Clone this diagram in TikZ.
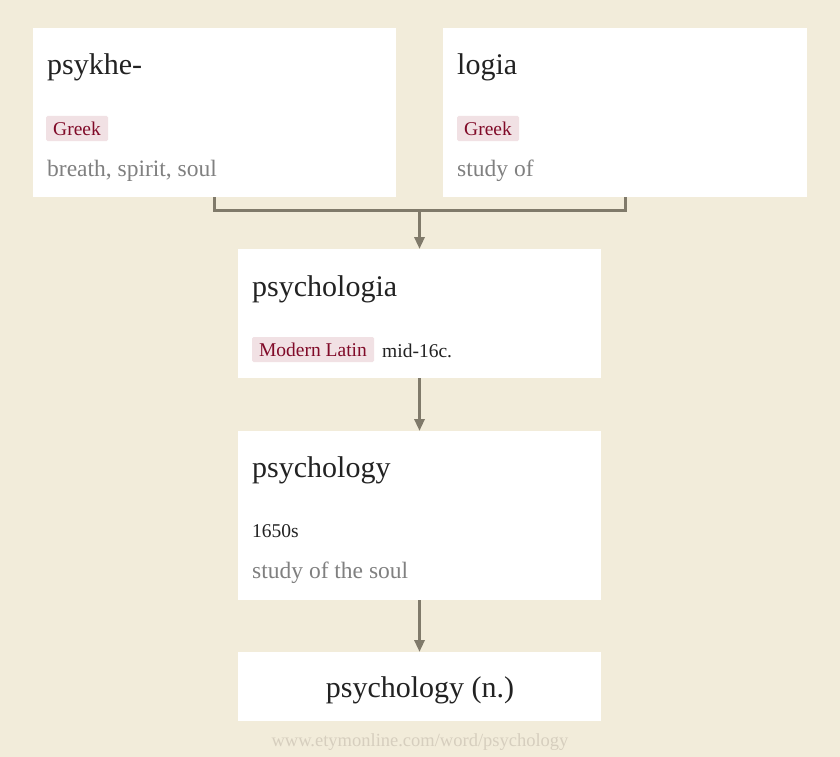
\documentclass[tikz,border=0pt]{standalone}
\usepackage{fontspec}
\setmainfont{Liberation Serif}
\usetikzlibrary{arrows.meta}
\definecolor{pagebg}{RGB}{242,236,218}
\definecolor{inkdark}{RGB}{34,34,34}
\definecolor{inkgray}{RGB}{128,128,128}
\definecolor{tagbg}{RGB}{241,225,228}
\definecolor{tagred}{RGB}{128,10,40}
\definecolor{linkgray}{RGB}{128,122,106}
\definecolor{urlgray}{RGB}{214,206,190}
\tikzset{
  box/.style={fill=white, draw=none, inner sep=0pt, outer sep=0pt, anchor=north west},
  title/.style={anchor=base west, inner sep=0pt, text=inkdark, font=\fontsize{30}{32}\selectfont},
  tag/.style={fill=tagbg, rounded corners=1.5pt, inner sep=0pt, minimum height=25pt, text=tagred, font=\fontsize{19.5}{21}\selectfont},
  note/.style={anchor=base west, inner sep=0pt, text=inkdark, font=\fontsize{19.5}{21}\selectfont},
  gloss/.style={anchor=base west, inner sep=0pt, text=inkgray, font=\fontsize{23.5}{25}\selectfont},
  link/.style={draw=linkgray, line width=3pt},
  arr/.style={link, -{Triangle[length=12pt, width=10pt]}}
}
\begin{document}
\begin{tikzpicture}[x=1pt, y=-1pt]
\fill[pagebg] (0,0) rectangle (840,757);
\useasboundingbox (0,0) rectangle (840,757);
% word boxes
\node[box, minimum width=363pt, minimum height=169pt] (psykhe) at (33,28) {};
\node[box, minimum width=364pt, minimum height=169pt] (logia) at (443,28) {};
\node[box, minimum width=363pt, minimum height=129pt] (psychologia) at (238,249) {};
\node[box, minimum width=363pt, minimum height=169pt] (psychology) at (238,431) {};
\node[box, minimum width=363pt, minimum height=69pt] (final) at (238,652) {};
% psykhe-
\node[title] (psykhe-t) at (47,75) {psykhe-};
\node[tag, minimum width=62pt] (psykhe-l) at (77,128.5) {Greek};
\node[gloss] (psykhe-g) at (47,176) {breath, spirit, soul};
% logia
\node[title] (logia-t) at (457,75) {logia};
\node[tag, minimum width=62pt] (logia-l) at (488,128.5) {Greek};
\node[gloss] (logia-g) at (457,176) {study of};
% psychologia
\node[title] (psychologia-t) at (252,296) {psychologia};
\node[tag, minimum width=122pt] (psychologia-l) at (313,349.5) {Modern Latin};
\node[note] (psychologia-d) at (382,357) {mid-16c.};
% psychology
\node[title] (psychology-t) at (252,477) {psychology};
\node[note] (psychology-d) at (252,537) {1650s};
\node[gloss] (psychology-g) at (252,578) {study of the soul};
% psychology (n.)
\node[title, anchor=base] (final-t) at (420,697) {psychology (n.)};
\node[anchor=base, inner sep=0pt, text=urlgray, font=\fontsize{18.5}{20}\selectfont] (url) at (420,746) {www.etymonline.com/word/psychology};
% links
\coordinate (join) at (psychologia.north |- 0,210);
\draw[link] (psykhe.south) |- (join) -| (logia.south);
\draw[arr] (join) -- (psychologia.north);
\draw[arr] (psychologia.south) -- (psychology.north);
\draw[arr] (psychology.south) -- (final.north);
\end{tikzpicture}
\end{document}
